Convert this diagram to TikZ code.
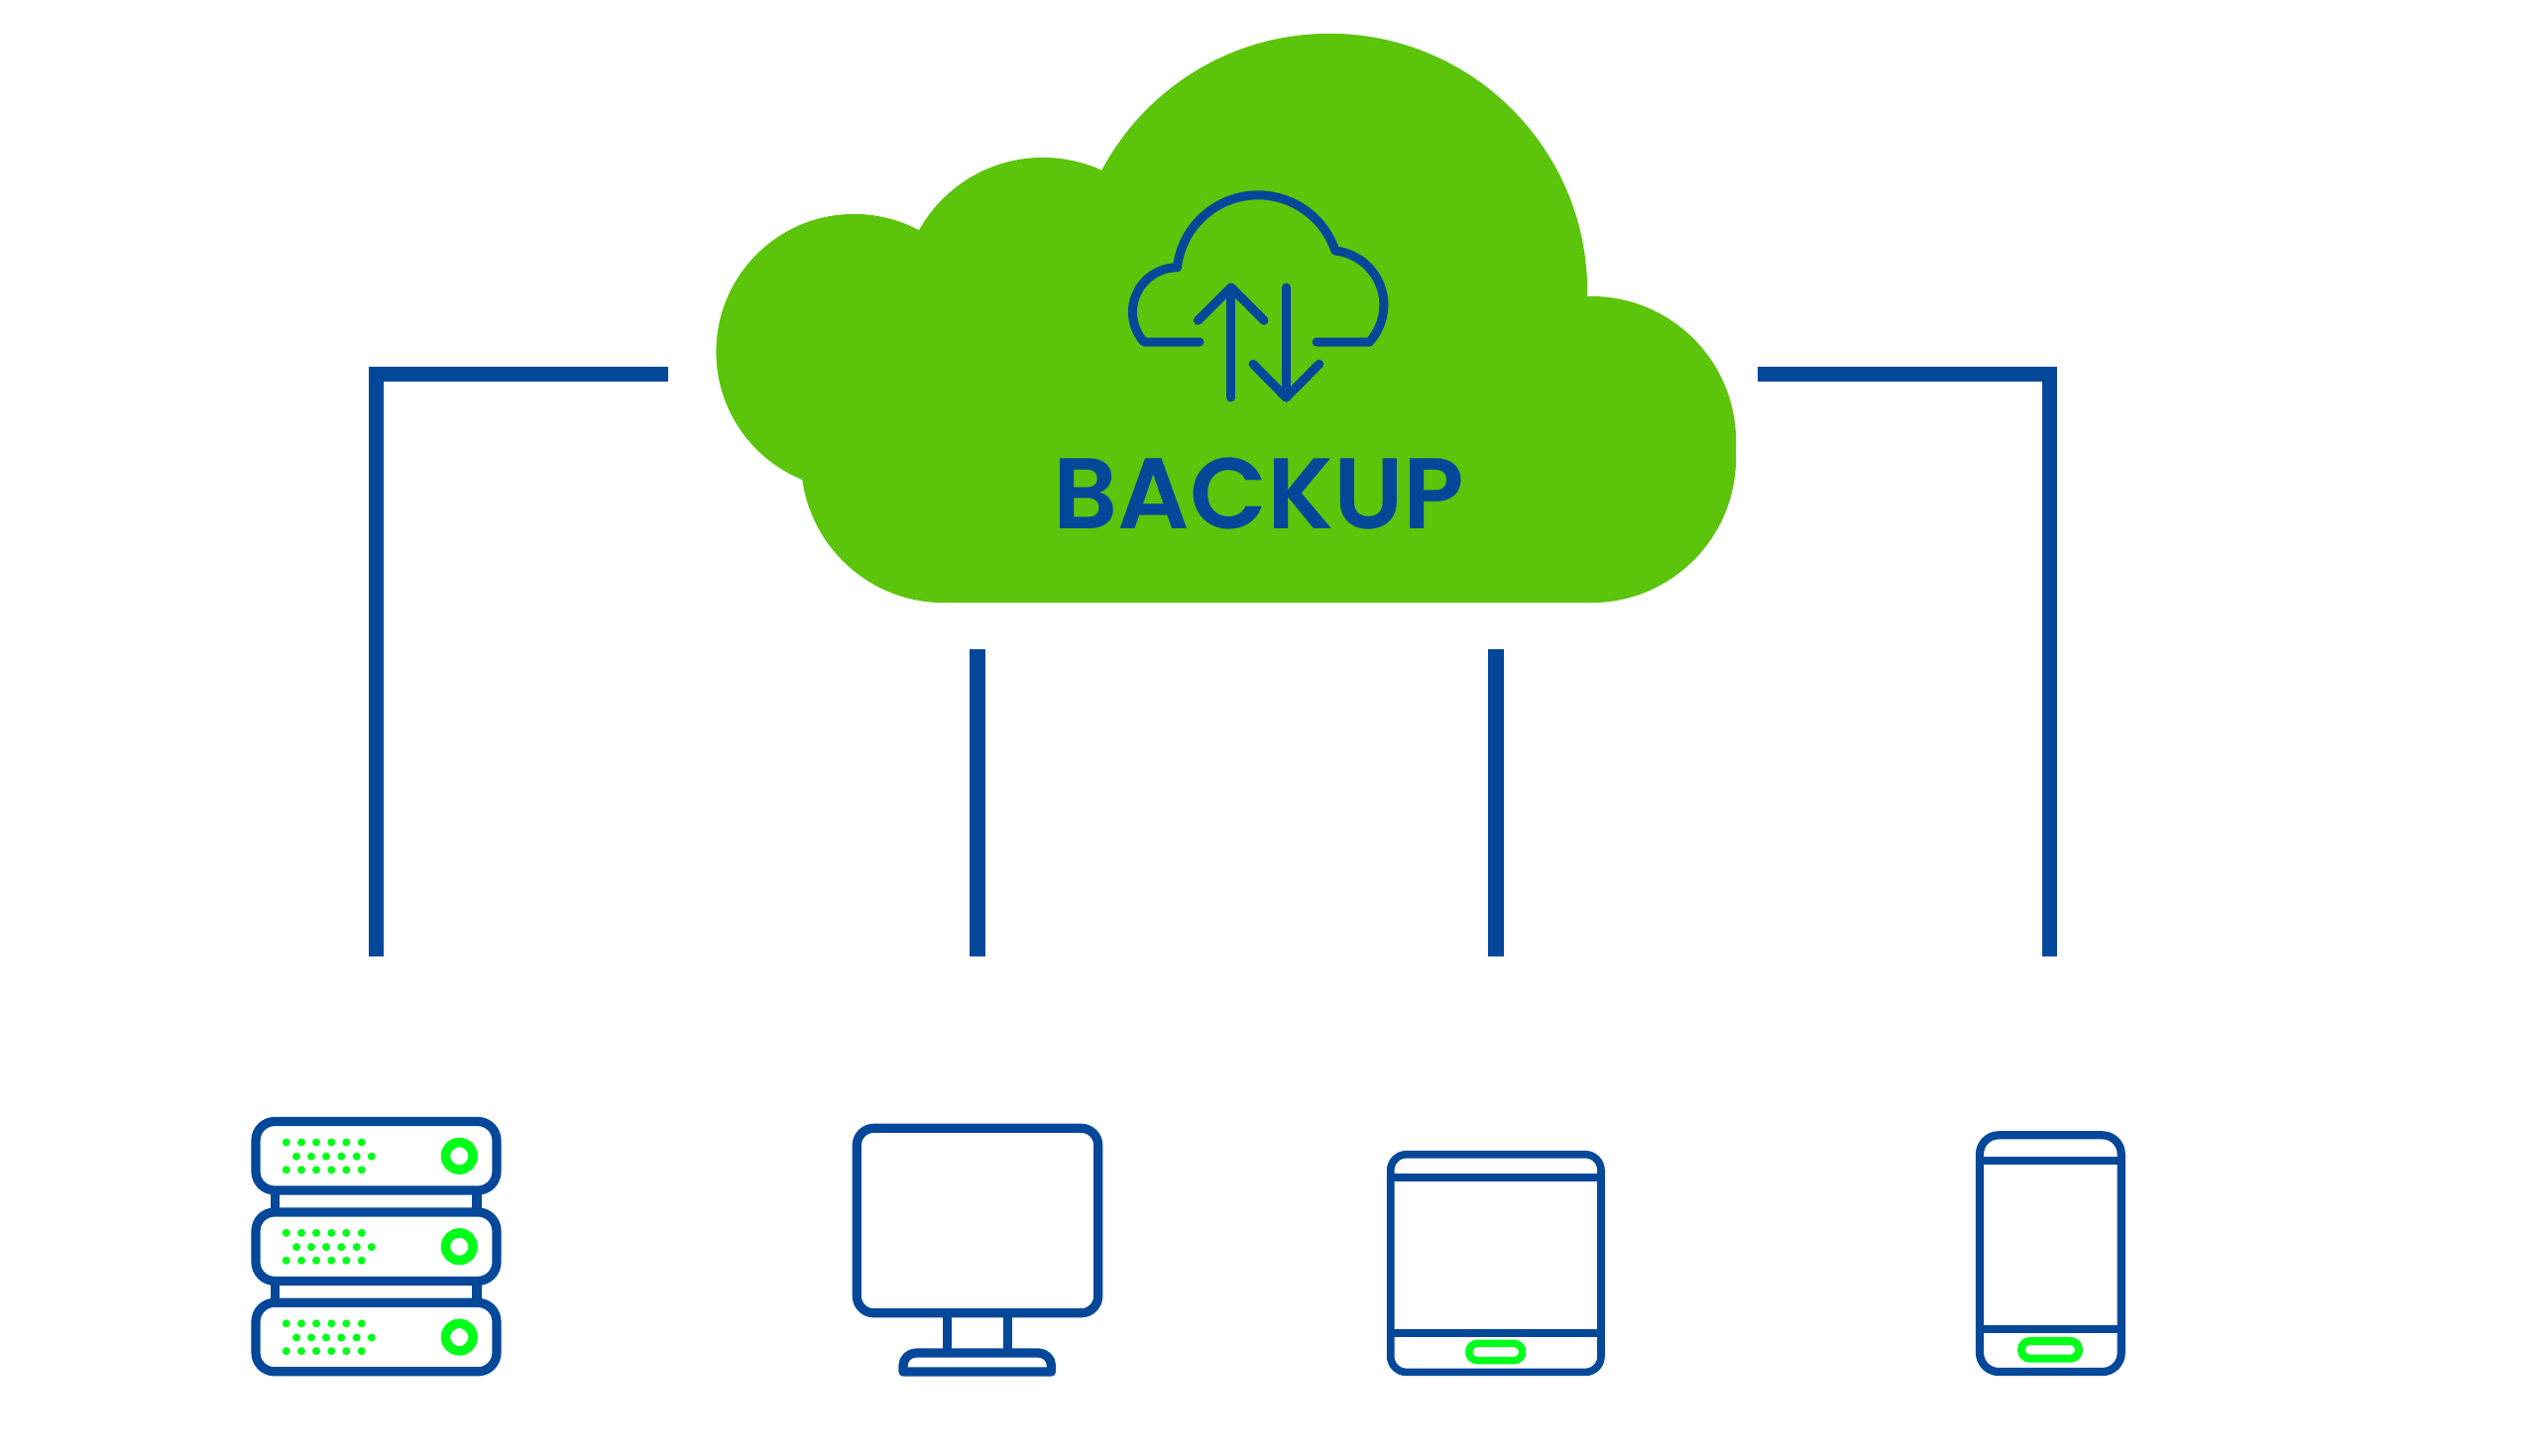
\documentclass[tikz,border=0pt]{standalone}
\usepackage{fontspec}
\setmainfont{Poppins}
\newfontfamily\backupfont{Poppins SemiBold}
\definecolor{navy}{HTML}{05489A}
\definecolor{leaf}{HTML}{5BC40B}
\definecolor{lime}{HTML}{00FF19}
\tikzset{
  px/.style={x=0.01cm,y=-0.01cm},
  cloudfill/.style={fill=leaf,draw=none},
  link/.style={draw=navy,line width=15.3*0.01cm,line cap=butt,line join=miter},
  icon/.style={draw=navy,line width=9.2*0.01cm,line join=round},
  inner/.style={draw=navy,line width=9*0.01cm,line cap=round,line join=round},
  pill/.style={draw=lime,line width=7.5*0.01cm},
  ring/.style={draw=lime,line width=9.5*0.01cm},
  dot/.style={fill=lime,draw=none}
}
\newcommand{\serverrow}[1]{%
  \draw[icon,rounded corners=0.19cm] (258,1131.5+#1) rectangle (501,1201+#1);
  \foreach \k in {288.7,304,319,334.3,349.3,364.7}{
    \fill[dot] (\k,1152.5+#1) circle[radius=0.04cm];
    \fill[dot] (\k,1180.3+#1) circle[radius=0.04cm];
  }
  \foreach \k in {299,314,329,344.3,359.7,374.7}{
    \fill[dot] (\k,1166.7+#1) circle[radius=0.04cm];
  }
  \draw[ring] (463.3,1166.3+#1) circle[radius=0.138cm];
}
\begin{document}
\begin{tikzpicture}[px]
\useasboundingbox (0,0) rectangle (2548,1468);
% big cloud
\fill[cloudfill] (1341,294) circle[radius=2.6cm];
\fill[cloudfill] (1052,302) circle[radius=1.43cm];
\fill[cloudfill] (861.5,355) circle[radius=1.39cm];
\fill[cloudfill] (952,464) circle[radius=1.44cm];
\fill[cloudfill] (1605,445) circle[radius=1.46cm];
\fill[cloudfill] (1605,462) circle[radius=1.46cm];
\fill[cloudfill] (952,299) rectangle (1605,608);
\fill[cloudfill] (1605,445) rectangle (1751,462);
% small cloud glyph
\coordinate (glyphL) at (1210,345);
\coordinate (glyphA) at (1154,345);
\coordinate (glyphB) at (1381.5,345);
\coordinate (glyphR) at (1328,345);
\draw[inner] (glyphL) -- (glyphA)
  arc[start angle=222,end angle=90,radius=0.45cm]
  arc[start angle=173.7,end angle=18.4,radius=0.82cm]
  arc[start angle=83.7,end angle=-42,radius=0.55cm]
  -- (glyphB) -- (glyphR);
% arrows
\coordinate (upTip) at (1241.7,290);
\coordinate (upEnd) at (1241.7,401);
\coordinate (upL) at (1208.3,323.3);
\coordinate (upR) at (1275,323.3);
\coordinate (dnTip) at (1297.3,401);
\coordinate (dnEnd) at (1297.3,290);
\coordinate (dnL) at (1264,367.3);
\coordinate (dnR) at (1330.7,367.3);
\draw[inner] (upEnd) -- (upTip);
\draw[inner] (upL) -- (upTip) -- (upR);
\draw[inner] (dnEnd) -- (dnTip);
\draw[inner] (dnL) -- (dnTip) -- (dnR);
% label
\node[text=navy,font=\backupfont\fontsize{28.8pt}{30pt}\selectfont,inner sep=0pt] (backup) at (1270,498) {BACKUP};
% connectors
\coordinate (cloudL) at (674,377.5);
\coordinate (elbowL) at (379.5,377.5);
\coordinate (serverTop) at (379.5,965);
\coordinate (cloudR) at (1773,377.5);
\coordinate (elbowR) at (2067.5,377.5);
\coordinate (phoneTop) at (2067.5,965);
\coordinate (cloudM1) at (986,655);
\coordinate (monTop) at (986,965);
\coordinate (cloudM2) at (1509,655);
\coordinate (tabTop) at (1509,965);
\draw[link] (cloudL) -- (elbowL) -- (serverTop);
\draw[link] (cloudR) -- (elbowR) -- (phoneTop);
\draw[link] (cloudM1) -- (monTop);
\draw[link] (cloudM2) -- (tabTop);
% server
\serverrow{0}
\serverrow{91.4}
\serverrow{182.8}
\draw[icon] (277.7,1201) -- (277.7,1223.5) (481,1201) -- (481,1223.5);
\draw[icon] (277.7,1292.4) -- (277.7,1314.8) (481,1292.4) -- (481,1314.8);
% monitor
\draw[icon,rounded corners=0.17cm] (864.3,1138.3) rectangle (1107.7,1324.7);
\draw[icon] (955.5,1324.7) -- (955.5,1365) (1016.7,1324.7) -- (1016.7,1365);
\draw[icon] (911,1384) [rounded corners=0.13cm] -- (911,1365) -- (1060.5,1365) [sharp corners] -- (1060.5,1384) -- cycle;
% tablet
\draw[icon,line width=7.6*0.01cm,rounded corners=0.16cm] (1402.7,1164.7) rectangle (1615,1384.4);
\draw[icon,line width=7.6*0.01cm] (1402.7,1188) -- (1615,1188) (1402.7,1344.7) -- (1615,1344.7);
\draw[pill,rounded corners=0.086cm] (1481.7,1355.4) rectangle (1535.7,1372.6);
% phone
\draw[icon,line width=8.2*0.01cm,rounded corners=0.19cm] (1997,1145.3) rectangle (2139.7,1384);
\draw[icon,line width=8.2*0.01cm] (1997,1170.7) -- (2139.7,1170.7) (1997,1340.7) -- (2139.7,1340.7);
\draw[pill,line width=8*0.01cm,rounded corners=0.088cm] (2039,1353) rectangle (2097,1370.7);
\end{tikzpicture}
\end{document}
